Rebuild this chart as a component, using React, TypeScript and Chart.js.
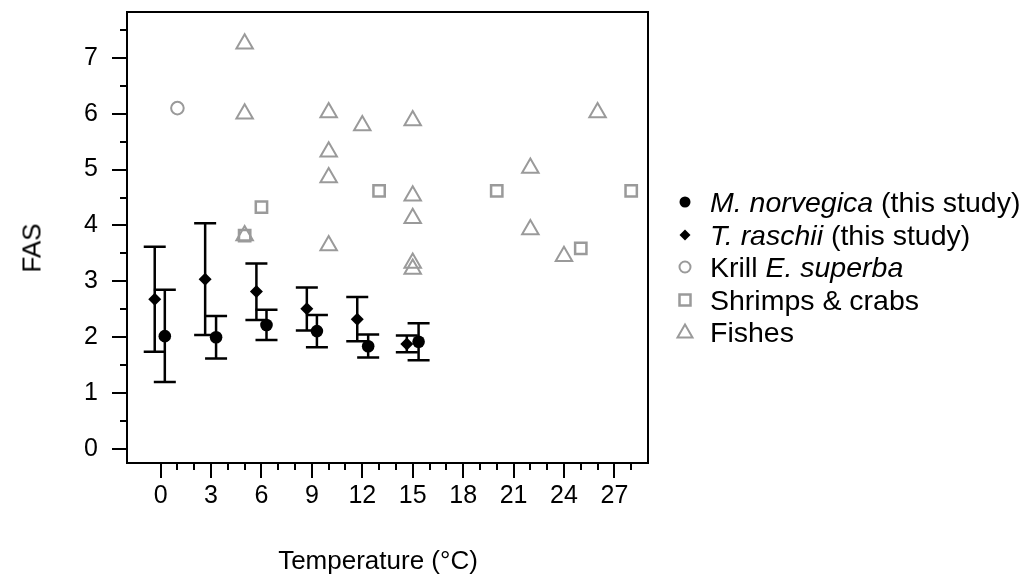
import React, { useEffect, useRef } from 'react';
import { Chart, registerables } from 'chart.js';

Chart.register(...registerables);

// ---------- data ----------
const mnTemp = [0.25, 3.3, 6.3, 9.3, 12.35, 15.35];
const mnFAS = [2.02, 2.0, 2.22, 2.11, 1.84, 1.92];
const mnLow = [1.2, 1.62, 1.95, 1.82, 1.64, 1.59];
const mnHigh = [2.85, 2.38, 2.49, 2.4, 2.05, 2.25];

const trTemp = [-0.35, 2.65, 5.7, 8.7, 11.7, 14.65];
const trFAS = [2.68, 3.04, 2.82, 2.51, 2.32, 1.88];
const trLow = [1.74, 2.04, 2.31, 2.12, 1.93, 1.73];
const trHigh = [3.62, 4.04, 3.32, 2.89, 2.72, 2.03];

const krillTemp = [1];
const krillFAS = [6.1];

const shrimpTemp = [5, 6, 13, 20, 25, 28];
const shrimpFAS = [3.82, 4.33, 4.62, 4.62, 3.59, 4.62];

const fishTemp = [5, 5, 5, 10, 10, 10, 10, 12, 15, 15, 15, 15, 15, 22, 22, 24, 26];
const fishFAS = [7.25, 6.0, 3.82, 6.02, 5.32, 4.86, 3.64, 5.79, 5.88, 4.53, 4.13, 3.33, 3.22, 5.03, 3.93, 3.45, 6.02];

const xMajorTicks = [0, 3, 6, 9, 12, 15, 18, 21, 24, 27];
const yMajorTicks = [0, 1, 2, 3, 4, 5, 6, 7];
const xMinorTicks = [1, 2, 4, 5, 7, 8, 10, 11, 13, 14, 16, 17, 19, 20, 22, 23, 25, 26, 28];
const yMinorTicks = [0.5, 1.5, 2.5, 3.5, 4.5, 5.5, 6.5, 7.5];

const xTitle = 'Temperature (°C)';
const yTitle = 'FAS';

const FONT = '"Liberation Sans", Arial, Helvetica, sans-serif';
const GREY = '#9a9a9a';

const toPts = (xs: number[], ys: number[]) => xs.map((x, i) => ({ x, y: ys[i] }));

const frameTicksPlugin = {
  id: 'frameTicks',
  afterDraw(chart: any) {
    const { ctx, chartArea: a, scales } = chart;
    const xs = scales.x;
    const ys = scales.y;
    ctx.save();
    ctx.strokeStyle = '#000';
    ctx.lineWidth = 2;
    ctx.strokeRect(a.left, a.top, a.right - a.left, a.bottom - a.top);
    ctx.beginPath();
    xMajorTicks.forEach((v) => {
      const p = Math.round(xs.getPixelForValue(v));
      ctx.moveTo(p, a.bottom);
      ctx.lineTo(p, a.bottom + 15);
    });
    xMinorTicks.forEach((v) => {
      const p = Math.round(xs.getPixelForValue(v));
      ctx.moveTo(p, a.bottom);
      ctx.lineTo(p, a.bottom + 7);
    });
    yMajorTicks.forEach((v) => {
      const p = Math.round(ys.getPixelForValue(v));
      ctx.moveTo(a.left, p);
      ctx.lineTo(a.left - 15, p);
    });
    yMinorTicks.forEach((v) => {
      const p = Math.round(ys.getPixelForValue(v));
      ctx.moveTo(a.left, p);
      ctx.lineTo(a.left - 7, p);
    });
    ctx.stroke();
    ctx.restore();
  },
};

const errorBarPlugin = {
  id: 'errorBars',
  beforeDatasetsDraw(chart: any) {
    const { ctx, scales } = chart;
    const ys = scales.y;
    ctx.save();
    ctx.strokeStyle = '#000';
    ctx.lineWidth = 2.5;
    chart.data.datasets.forEach((ds: any, i: number) => {
      if (!ds.errLow) return;
      const meta = chart.getDatasetMeta(i);
      meta.data.forEach((pt: any, j: number) => {
        const px = pt.x;
        const lo = ys.getPixelForValue(ds.errLow[j]);
        const hi = ys.getPixelForValue(ds.errHigh[j]);
        ctx.beginPath();
        ctx.moveTo(px, lo);
        ctx.lineTo(px, hi);
        ctx.moveTo(px - 11, lo);
        ctx.lineTo(px + 11, lo);
        ctx.moveTo(px - 11, hi);
        ctx.lineTo(px + 11, hi);
        ctx.stroke();
      });
    });
    ctx.restore();
  },
};

function Marker({ kind }: { kind: string }) {
  const s = 20;
  let el: any = null;
  if (kind === 'dot') el = <circle cx={10} cy={10} r={5.5} fill="#000" />;
  if (kind === 'diamond') el = <polygon points="10,4.5 15.5,10 10,15.5 4.5,10" fill="#000" />;
  if (kind === 'ring') el = <circle cx={10} cy={10} r={5.5} fill="none" stroke={GREY} strokeWidth={2} />;
  if (kind === 'square') el = <rect x={4.5} y={4.5} width={11} height={11} fill="none" stroke={GREY} strokeWidth={2.5} />;
  if (kind === 'tri') el = <polygon points="10,2.5 17.5,15.5 2.5,15.5" fill="none" stroke={GREY} strokeWidth={2} />;
  return (
    <svg width={s} height={s} style={{ position: 'absolute', left: -10, top: -10 }}>
      {el}
    </svg>
  );
}

const legendRows: { kind: string; parts: [string, boolean][] }[] = [
  { kind: 'dot', parts: [['M. norvegica', true], [' (this study)', false]] },
  { kind: 'diamond', parts: [['T. raschii', true], [' (this study)', false]] },
  { kind: 'ring', parts: [['Krill ', false], ['E. superba', true]] },
  { kind: 'square', parts: [['Shrimps & crabs', false]] },
  { kind: 'tri', parts: [['Fishes', false]] },
];

export default function App() {
  const ref = useRef<HTMLCanvasElement | null>(null);

  useEffect(() => {
    if (!ref.current) return;
    const chart = new Chart(ref.current, {
      type: 'scatter',
      data: {
        datasets: [
          {
            label: 'Fishes',
            data: toPts(fishTemp, fishFAS),
            pointStyle: 'triangle',
            pointRadius: 9.5,
            borderColor: GREY,
            backgroundColor: 'rgba(0,0,0,0)',
            borderWidth: 2,
          },
          {
            label: 'Shrimps & crabs',
            data: toPts(shrimpTemp, shrimpFAS),
            pointStyle: 'rect',
            pointRadius: 8,
            borderColor: GREY,
            backgroundColor: 'rgba(0,0,0,0)',
            borderWidth: 2.5,
          },
          {
            label: 'Krill E. superba',
            data: toPts(krillTemp, krillFAS),
            pointStyle: 'circle',
            pointRadius: 6.3,
            borderColor: GREY,
            backgroundColor: 'rgba(0,0,0,0)',
            borderWidth: 2,
          },
          {
            label: 'T. raschii (this study)',
            data: toPts(trTemp, trFAS),
            pointStyle: 'rectRot',
            pointRadius: 6.5,
            borderColor: '#000',
            backgroundColor: '#000',
            borderWidth: 0,
            errLow: trLow,
            errHigh: trHigh,
          } as any,
          {
            label: 'M. norvegica (this study)',
            data: toPts(mnTemp, mnFAS),
            pointStyle: 'circle',
            pointRadius: 6.3,
            borderColor: '#000',
            backgroundColor: '#000',
            borderWidth: 0,
            errLow: mnLow,
            errHigh: mnHigh,
          } as any,
        ],
      },
      options: {
        animation: false,
        responsive: false,
        events: [],
        layout: { padding: { left: 0, top: 12, right: 1028 - 648, bottom: 0 } },
        plugins: { legend: { display: false }, tooltip: { enabled: false } },
        scales: {
          x: {
            type: 'linear',
            min: -2,
            max: 29,
            afterFit: (s: any) => {
              s.height = 115;
              s.paddingLeft = 0;
              s.paddingRight = 0;
            },
            grid: { display: false, drawTicks: false },
            border: { display: false },
            ticks: {
              stepSize: 1,
              includeBounds: false,
              autoSkip: false,
              maxRotation: 0,
              padding: 18,
              color: '#000',
              font: { family: FONT, size: 25 },
              callback: (v: any) => (xMajorTicks.includes(Number(v)) ? String(v) : ''),
            },
          },
          y: {
            type: 'linear',
            min: -0.25,
            max: 7.82,
            afterFit: (s: any) => {
              s.width = 127;
              s.paddingTop = 0;
              s.paddingBottom = 0;
            },
            grid: { display: false, drawTicks: false },
            border: { display: false },
            ticks: {
              stepSize: 0.5,
              includeBounds: false,
              autoSkip: false,
              padding: 29,
              color: '#000',
              font: { family: FONT, size: 25 },
              callback: (v: any) => (yMajorTicks.includes(Number(v)) ? String(v) : ''),
            },
          },
        },
      },
      plugins: [errorBarPlugin, frameTicksPlugin],
    } as any);
    return () => chart.destroy();
  }, []);

  return (
    <div style={{ position: 'absolute', left: 0, top: 0, width: 1028, height: 578, background: '#fff', fontFamily: FONT, color: '#000' }}>
      <canvas ref={ref} width={1028} height={578} style={{ display: 'block', position: 'absolute', left: 0, top: 0 }} />
      <div
        style={{
          position: 'absolute',
          left: 32,
          top: 248,
          transform: 'translate(-50%, -50%) rotate(-90deg)',
          fontSize: 26,
          whiteSpace: 'nowrap',
        }}
      >
        {yTitle}
      </div>
      <div
        style={{
          position: 'absolute',
          left: 378,
          top: 560,
          transform: 'translate(-50%, -50%)',
          fontSize: 26,
          whiteSpace: 'nowrap',
        }}
      >
        {xTitle}
      </div>
      {legendRows.map((row, i) => (
        <div key={i} style={{ position: 'absolute', left: 685, top: 202 + i * 32.5, height: 0 }}>
          <Marker kind={row.kind} />
          <div
            style={{
              position: 'absolute',
              left: 25,
              top: 0,
              transform: 'translateY(-50%)',
              fontSize: 28.5,
              whiteSpace: 'nowrap',
              lineHeight: '32px',
            }}
          >
            {row.parts.map(([t, it], k) => (
              <span key={k} style={{ fontStyle: it ? 'italic' : 'normal' }}>
                {t}
              </span>
            ))}
          </div>
        </div>
      ))}
    </div>
  );
}
